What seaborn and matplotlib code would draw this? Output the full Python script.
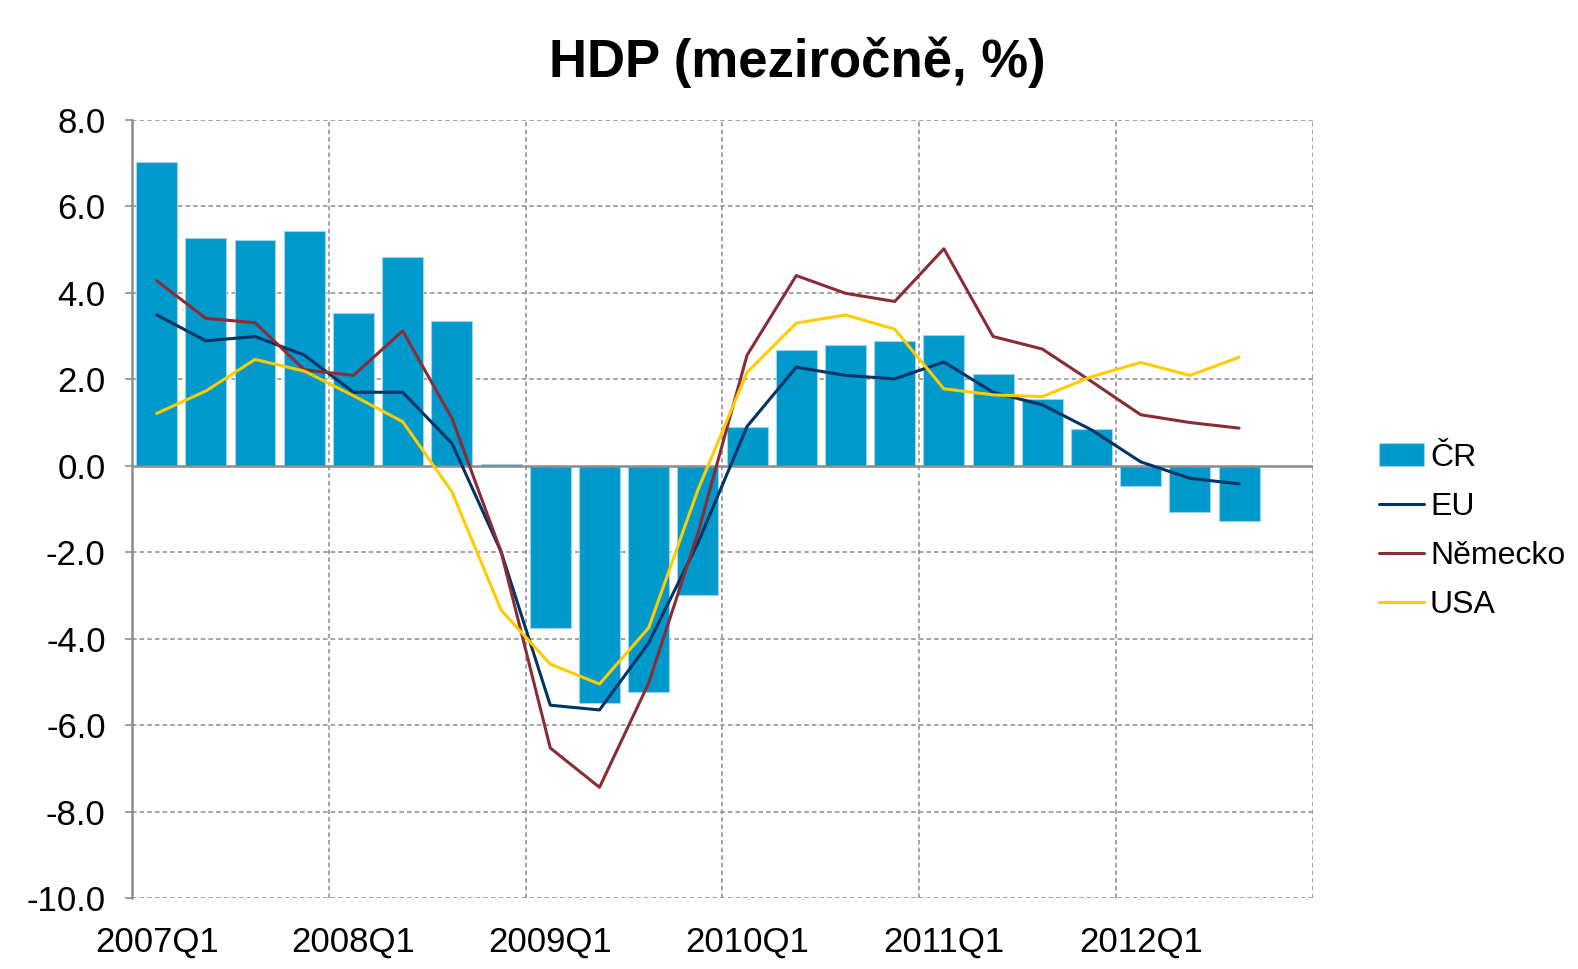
import matplotlib
matplotlib.use("Agg")
import matplotlib.pyplot as plt
import numpy as np
import pandas as pd
import seaborn as sns

# quarters 2007Q1 .. 2012Q3 (2012Q4 slot left empty)
quarters = [f"{y}Q{q}" for y in range(2007, 2013) for q in range(1, 5)]
n_obs = 23

cr = [7.02, 5.27, 5.23, 5.42, 3.53, 4.82, 3.34, 0.04,
      -3.75, -5.48, -5.23, -2.99, 0.89, 2.68, 2.80, 2.88,
      3.02, 2.12, 1.54, 0.86, -0.48, -1.06, -1.28]
eu = [3.49, 2.89, 2.99, 2.56, 1.70, 1.70, 0.52, -1.99,
      -5.54, -5.65, -4.10, -1.79, 0.91, 2.28, 2.09, 2.01,
      2.40, 1.70, 1.41, 0.83, 0.09, -0.29, -0.42]
nemecko = [4.28, 3.41, 3.31, 2.22, 2.09, 3.12, 1.10, -1.99,
           -6.53, -7.44, -5.03, -1.56, 2.56, 4.40, 3.99, 3.80,
           5.02, 2.99, 2.70, 1.95, 1.18, 1.00, 0.87]
usa = [1.21, 1.73, 2.46, 2.19, 1.62, 1.02, -0.60, -3.34,
       -4.59, -5.05, -3.75, -0.56, 2.16, 3.30, 3.49, 3.16,
       1.78, 1.64, 1.60, 2.06, 2.39, 2.09, 2.51]

tick_labels = ["2007Q1", "2008Q1", "2009Q1", "2010Q1", "2011Q1", "2012Q1"]

C_BAR = "#0099CC"
C_EU = "#003366"
C_DE = "#8B2C35"
C_US = "#FFCC00"
GRID = "#8C8C8C"

sns.set_style("white")
plt.rcParams["font.family"] = ["Liberation Sans", "DejaVu Sans"]
plt.rcParams["text.color"] = "black"
plt.rcParams["xtick.color"] = "black"
plt.rcParams["ytick.color"] = "black"

bars_df = pd.DataFrame({"q": quarters[:n_obs], "val": cr})
lines_df = pd.DataFrame({
    "pos": np.arange(n_obs),
    "EU": eu, "Německo": nemecko, "USA": usa,
})

fig = plt.figure(figsize=(15.78, 9.69), dpi=100)
ax = fig.add_axes([0.0837, 0.0733, 0.7483, 0.8029])

sns.barplot(data=bars_df, x="q", y="val", order=quarters, ax=ax,
            color=C_BAR, saturation=1, width=0.83,
            edgecolor="#9ED3EA", linewidth=0.8, label="ČR", zorder=2)

for col, c in [("EU", C_EU), ("Německo", C_DE), ("USA", C_US)]:
    sns.lineplot(data=lines_df, x="pos", y=col, ax=ax, color=c,
                 linewidth=2.2, label=col, zorder=3)

ax.set_xlim(-0.5, 23.5)
ax.set_ylim(-10, 8)
ax.set_yticks(np.arange(-10, 8.1, 2))
ax.set_yticklabels([f"{v:.1f}" for v in np.arange(-10, 8.1, 2)])
ax.set_xticks(np.arange(0, 24, 4))
ax.set_xticklabels(tick_labels)
ax.set_xlabel("")
ax.set_ylabel("")

# dashed grid: horizontal at each tick, vertical at year boundaries
for yv in np.arange(-10, 8.1, 2):
    if yv != 0:
        ax.axhline(yv, color=GRID, linestyle=(0, (3, 2)), linewidth=1.1, zorder=1)
for xv in np.arange(3.5, 24, 4):
    ax.axvline(xv, color=GRID, linestyle=(0, (3, 2)), linewidth=1.1, zorder=1)
ax.axhline(0, color=GRID, linewidth=1.8, zorder=2.5)

for s in ["top", "right", "bottom"]:
    ax.spines[s].set_visible(False)
ax.spines["left"].set_color(GRID)
ax.spines["left"].set_linewidth(1.8)

ax.tick_params(axis="y", labelsize=25, length=5, width=1.2, color=GRID,
               pad=14, left=True)
ax.tick_params(axis="x", labelsize=25, length=0, pad=20)

fig.suptitle("HDP (meziročně, %)", x=0.505, y=0.962, fontsize=38,
             fontweight="bold", va="top")

# legend: bar first, then the lines
handles, labels = ax.get_legend_handles_labels()
order = [labels.index(l) for l in ["ČR", "EU", "Německo", "USA"]]
ax.legend([handles[i] for i in order], [labels[i] for i in order],
          loc="center left", bbox_to_anchor=(1.045, 0.471), frameon=False,
          fontsize=23, handlelength=1.4, handletextpad=0.2,
          labelspacing=0.6, borderaxespad=0)

fig.savefig("out.png", dpi=100)
